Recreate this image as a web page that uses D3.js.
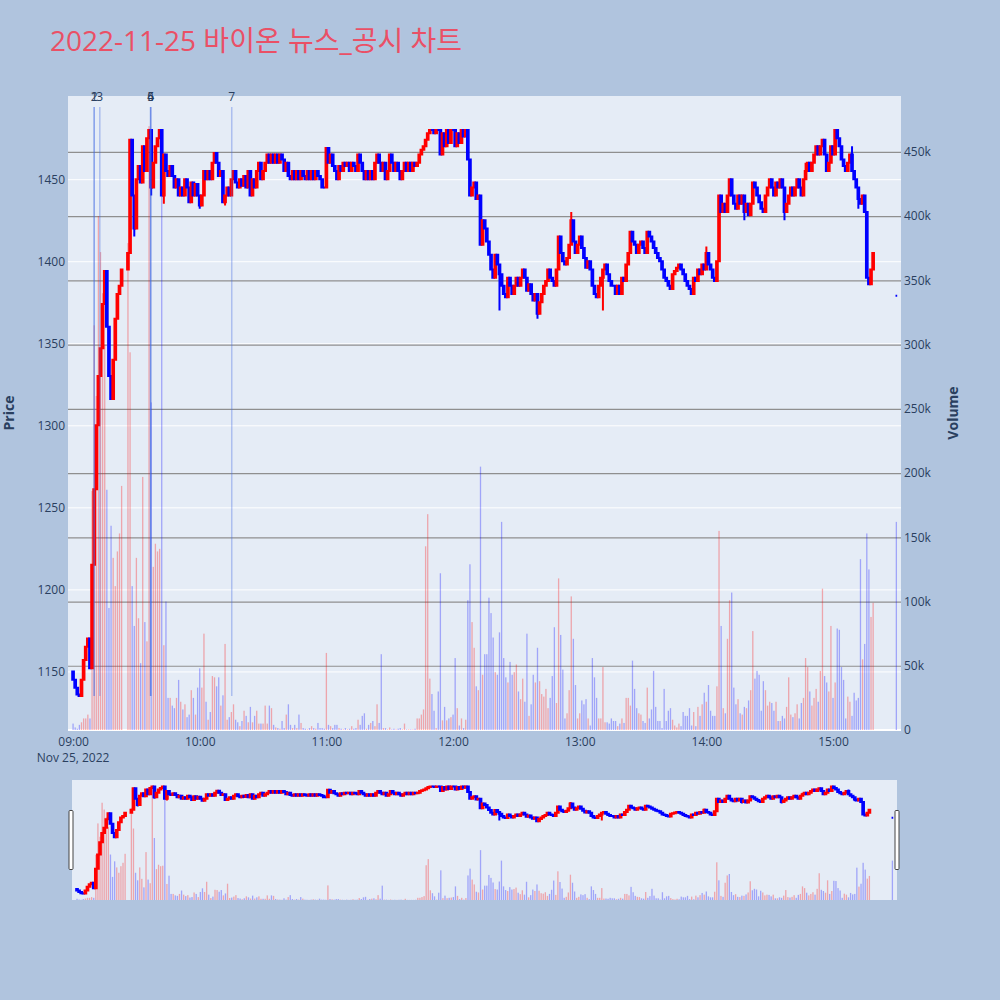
<!DOCTYPE html>
<html>
<head>
<meta charset="utf-8">
<script src="https://cdnjs.cloudflare.com/ajax/libs/d3/7.8.5/d3.min.js"></script>
<style>
body { margin: 0; background: #b0c4de; }
svg { display: block; font-family: "Open Sans", "Noto Sans CJK KR", sans-serif; }
</style>
</head>
<body>
<div id="chart"></div>
<script>
var title = '2022-11-25 바이온 뉴스_공시 차트';

// one close per minute from 09:00 (null = no trade, VI halt)
var firstOpen = 1150;
var closes = [
    1145,1140,1136,1135,1145,1157,1165,1170,1152,1215,
    1261,1300,1330,1347,1374,1394,1360,1330,1316,1340,
    1365,1380,1385,1395,null,null,1405,1474,1440,1420,
    1450,1458,1448,1470,1455,1475,1480,1445,1460,1470,
    1475,1480,1440,1465,1455,1452,1458,1452,1445,1450,
    1440,1445,1440,1450,1445,1436,1448,1440,1447,1440,
    1434,1440,1455,1450,1455,1450,1460,1466,1460,1452,
    1455,1436,1440,1445,1440,1450,1455,1448,1445,1450,
    1446,1452,1445,1455,1440,1450,1445,1455,1460,1450,
    1455,1460,1465,1460,1465,1460,1465,1460,1465,1462,
    1455,1460,1452,1450,1455,1450,1455,1450,1455,1452,
    1450,1455,1450,1455,1450,1455,1452,1450,1445,1445,
    1469,1460,1465,1458,1455,1450,1458,1455,1460,1458,
    1460,1455,1460,1458,1455,1465,1460,1455,1450,1455,
    1450,1455,1450,1460,1465,1460,1455,1460,1450,1455,
    1465,1460,1455,1460,1455,1450,1455,1460,1455,1460,
    1455,1460,1458,1460,1465,1468,1470,1474,1478,1480,
    1480,1478,1480,1480,1465,1478,1470,1480,1472,1480,
    1480,1470,1478,1472,1480,1476,1480,1462,1440,1445,
    1448,1438,1440,1410,1425,1420,1412,1404,1395,1390,
    1404,1398,1392,1385,1380,1378,1390,1385,1380,1385,
    1390,1385,1390,1395,1390,1382,1386,1380,1376,1380,
    1368,1375,1380,1385,1388,1395,1390,1388,1385,1395,
    1415,1405,1400,1398,1402,1410,1425,1412,1405,1410,
    1415,1408,1402,1396,1400,1395,1385,1380,1378,1385,
    1390,1395,1398,1392,1388,1385,1385,1380,1385,1380,
    1390,1388,1398,1405,1418,1412,1410,1405,1410,1412,
    1408,1405,1418,1415,1412,1408,1405,1402,1400,1395,
    1390,1388,1385,1383,1392,1394,1396,1398,1395,1392,
    1388,1385,1383,1380,1390,1388,1395,1392,1398,1395,
    1405,1398,1395,1390,1388,1400,1440,1430,1435,1430,
    1440,1450,1440,1435,1432,1440,1435,1440,1430,1435,
    1428,1435,1448,1445,1440,1436,1432,1430,1440,1445,
    1450,1445,1440,1448,1445,1450,1445,1430,1435,1440,
    1445,1440,1445,1450,1445,1440,1450,1455,1460,1455,
    1460,1465,1470,1465,1470,1474,1465,1455,1460,1470,
    1465,1480,1475,1470,1462,1458,1455,1460,1465,1455,
    1450,1445,1438,1435,1440,1430,1390,1386,1395,1405
];

// wick extremes seen outside the bodies: minute index and price
var wickMinutes = [29, 37, 43, 60, 72, 125, 202, 220, 236, 251, 300, 318, 337, 347, 369, 372];
var wickPrices  = [1415, 1440, 1435, 1432, 1434, 1450, 1370, 1365, 1430, 1370, 1409, 1425, 1425, 1460, 1470, 1432];

// volume per minute, thousands of shares
var volumes = [
    5,2,1,4,6,9,9,12,9,186,
    315,260,400,372,340,300,187,95,159,134,
    112,139,153,190,null,null,379,294,112,81,
    134,87,52,197,84,69,470,255,127,145,
    139,141,459,66,100,25,25,19,17,25,
    39,22,16,20,10,12,31,25,12,33,
    48,33,75,22,8,14,42,41,34,41,
    19,27,67,8,10,14,20,8,6,3,
    7,15,11,6,18,6,11,15,5,5,
    5,19,5,19,17,4,2,1.5,1,7,
    1.5,12,20,4,1.5,4,1.5,12,5.5,1.5,
    1,0.5,1.5,3,1.5,1,5.5,1.5,1.5,1,
    60,4,3,1.5,4,4,1.5,1,0.5,1.5,
    0.5,1,3,1,1.5,8,4,11,13,1,
    4,5.5,7,3,20,5.5,59,1.5,1.5,0.5,
    2,0.5,1,0.5,1,1.5,0.5,5,0.5,0.5,
    0.5,0.5,1,9,9,12,16,143,168,40,
    28,15,1.5,30,122,7.5,18,7.5,9,10,
    12,56,17,3.5,9,1.5,8,101,129,84,
    64,34,31,205,43,59,59,103,91,72,
    45,43,76,162,56,41,37,53,43,45,
    51,30,24,40,22,75,11,20,43,37,
    64,38,28,26,32,17,25,42,80,21,
    118,74,47,9,13,31,104,71,35,9,
    13,23,20,24,9,3.5,56,41,25,9,
    9,49,6,6,5,9,7,7,3,5,
    9,5.5,25,25,19,54,32,17,13,12,
    7,5.5,33,9,16,46,18,7,7,1.5,
    32,7,15,17,8,3.5,2,5,3,14,
    11,11,17,3.5,14,3,18,11,20,29,
    22,35,15,11,11,34,155,81,17,13,
    71,101,107,33,20,24,13,12,18,17,
    23,31,77,40,46,43,15,38,31,19,
    22,21,15,22,7,7,11,9,18,41,
    12,10,13,20,9,21,25,56,49,30,
    19,25,32,22,46,110,42,37,30,81,
    25,37,79,78,49,39,9,26,22,11,
    29,23,25,133,55,67,153,125,88,99
];

// closing auction
var auctionTime = '15:30';
var auctionPrice = 1379;
var auctionVolume = 162;

var newsLabels = ['1', '2', '3', '4', '5', '6', '7'];
var newsTimes = ['09:10:00', '09:10:00', '09:12:40', '09:36:45', '09:36:45', '09:36:45', '10:15:10'];

var priceTicks = [1150, 1200, 1250, 1300, 1350, 1400, 1450];
var volumeTicks = [0, 50, 100, 150, 200, 250, 300, 350, 400, 450];
var timeTicks = ['09:00', '10:00', '11:00', '12:00', '13:00', '14:00', '15:00'];

function at(s) {
    var p = s.split(':').map(Number);
    return new Date(2022, 10, 25, p[0], p[1], p[2] || 0);
}

var t0 = at('09:00');
var rows = [];
var prev = firstOpen;
closes.forEach(function(c, i) {
    if (c == null) return;
    var r = {t: d3.timeMinute.offset(t0, i), o: prev, c: c, v: volumes[i]};
    r.h = Math.max(r.o, r.c);
    r.l = Math.min(r.o, r.c);
    var w = wickMinutes.indexOf(i);
    if (w >= 0) {
        r.h = Math.max(r.h, wickPrices[w]);
        r.l = Math.min(r.l, wickPrices[w]);
    }
    rows.push(r);
    prev = c;
});
rows.push({t: at(auctionTime), o: auctionPrice, c: auctionPrice, h: auctionPrice, l: auctionPrice, v: auctionVolume});
rows.forEach(function(d) { d.up = d.c > d.o; });

var plot = {left: 68, right: 901, top: 96, bottom: 730};
var slider = {left: 72, right: 897, top: 780, bottom: 900};

var svg = d3.select('#chart').append('svg')
    .attr('width', 1000)
    .attr('height', 1000);

svg.append('rect').attr('width', 1000).attr('height', 1000).attr('fill', '#b0c4de');

var x = d3.scaleTime()
    .domain([d3.timeSecond.offset(t0, -144), d3.timeSecond.offset(t0, 23532)])
    .range([plot.left, plot.right]);

var pMin = d3.min(rows, d => d.l),
    pMax = d3.max(rows, d => d.h),
    pPad = (pMax - pMin) * 0.06;
var y = d3.scaleLinear()
    .domain([pMin - pPad, pMax + pPad])
    .range([plot.bottom, plot.top]);

var yv = d3.scaleLinear()
    .domain([0, d3.max(rows, d => d.v) * 1.05])
    .range([plot.bottom, plot.top]);

var step = x(d3.timeMinute.offset(t0, 1)) - x(t0);

// plot backgrounds
svg.append('rect')
    .attr('x', plot.left).attr('y', plot.top)
    .attr('width', plot.right - plot.left).attr('height', plot.bottom - plot.top)
    .attr('fill', '#e5ecf6');
svg.append('rect')
    .attr('x', slider.left).attr('y', slider.top)
    .attr('width', slider.right - slider.left).attr('height', slider.bottom - slider.top)
    .attr('fill', '#e5ecf6');

var defs = svg.append('defs');
defs.append('clipPath').attr('id', 'clipMain').append('rect')
    .attr('x', plot.left).attr('y', plot.top)
    .attr('width', plot.right - plot.left).attr('height', plot.bottom - plot.top);
defs.append('clipPath').attr('id', 'clipSlider').append('rect')
    .attr('x', slider.left).attr('y', slider.top)
    .attr('width', slider.right - slider.left).attr('height', slider.bottom - slider.top);

// grid: price (white) and volume (grey)
svg.append('g')
    .attr('transform', `translate(${plot.left},0)`)
    .call(d3.axisLeft(y).tickValues(priceTicks).tickSize(-(plot.right - plot.left)).tickFormat(''))
    .call(g => g.select('.domain').remove())
    .call(g => g.selectAll('.tick line').attr('stroke', '#fff').attr('stroke-width', 1));

svg.append('g')
    .attr('transform', `translate(${plot.right},0)`)
    .call(d3.axisRight(yv).tickValues(volumeTicks.slice(1)).tickSize(-(plot.right - plot.left)).tickFormat(''))
    .call(g => g.select('.domain').remove())
    .call(g => g.selectAll('.tick line').attr('stroke', '#8f8f8f').attr('stroke-width', 1.2));

svg.append('line')
    .attr('x1', plot.left).attr('x2', plot.right)
    .attr('y1', yv(0)).attr('y2', yv(0))
    .attr('stroke', '#fff').attr('stroke-width', 2);

function drawCandles(g, xs, ys, bw) {
    g.selectAll('.candle')
        .data(rows)
        .enter().append('path')
        .attr('class', 'candle')
        .attr('d', d => {
            var cx = xs(d.t), a = ys(d.o), b = ys(d.c);
            var top = Math.min(a, b), bot = Math.max(a, b);
            return 'M' + cx + ',' + ys(d.h) + 'V' + top +
                'M' + (cx - bw / 2) + ',' + top + 'H' + (cx + bw / 2) + 'V' + bot + 'H' + (cx - bw / 2) + 'Z' +
                'M' + cx + ',' + bot + 'V' + ys(d.l);
        })
        .style('fill', d => d.up ? 'rgba(255,0,0,0.5)' : 'rgba(0,0,255,0.5)')
        .style('stroke', d => d.up ? '#ff0000' : '#0000ff')
        .style('stroke-width', 2);
}

function drawVolume(g, xs, ys, bw) {
    g.selectAll('.vol')
        .data(rows)
        .enter().append('rect')
        .attr('class', 'vol')
        .attr('x', d => xs(d.t) - bw / 2)
        .attr('width', bw)
        .attr('y', d => ys(d.v))
        .attr('height', d => ys(0) - ys(d.v))
        .style('fill', d => d.up ? 'rgba(255,0,0,0.3)' : 'rgba(0,0,255,0.3)');
}

var gMain = svg.append('g').attr('clip-path', 'url(#clipMain)');
drawCandles(gMain, x, y, step * 0.8);
drawVolume(gMain, x, yv, step * 0.62);

// news markers
var lowest = d3.min(rows, d => d.l);
var gNews = svg.append('g');
newsTimes.forEach((t, i) => {
    var nx = x(at(t));
    gNews.append('line')
        .attr('x1', nx).attr('x2', nx)
        .attr('y1', plot.top + 11).attr('y2', y(lowest))
        .attr('stroke', 'rgba(65,105,225,0.35)')
        .attr('stroke-width', 1.5);
    gNews.append('text')
        .attr('x', nx).attr('y', plot.top + 5)
        .attr('text-anchor', 'middle')
        .style('font-size', '12px')
        .style('fill', '#2a3f5f')
        .text(newsLabels[i]);
});

// axes
svg.append('g')
    .attr('transform', `translate(${plot.left},0)`)
    .call(d3.axisLeft(y).tickValues(priceTicks).tickSize(0).tickPadding(3).tickFormat(d3.format('d')))
    .call(g => g.select('.domain').remove())
    .call(g => g.selectAll('text').style('font-size', '12px').style('fill', '#2a3f5f').style('font-family', '"Open Sans", sans-serif'));

svg.append('g')
    .attr('transform', `translate(${plot.right},0)`)
    .call(d3.axisRight(yv).tickValues(volumeTicks).tickSize(0).tickPadding(3)
        .tickFormat(v => v === 0 ? '0' : v + 'k'))
    .call(g => g.select('.domain').remove())
    .call(g => g.selectAll('text').style('font-size', '12px').style('fill', '#2a3f5f').style('font-family', '"Open Sans", sans-serif'));

svg.append('g')
    .attr('transform', `translate(0,${plot.bottom})`)
    .call(d3.axisBottom(x).tickValues(timeTicks.map(at)).tickSize(0).tickPadding(7)
        .tickFormat(d3.timeFormat('%H:%M')))
    .call(g => g.select('.domain').remove())
    .call(g => g.selectAll('text').style('font-size', '12px').style('fill', '#2a3f5f').style('font-family', '"Open Sans", sans-serif'));

svg.append('text')
    .attr('x', x(t0)).attr('y', 762)
    .attr('text-anchor', 'middle')
    .style('font-size', '12px').style('fill', '#2a3f5f')
    .text(d3.timeFormat('%b %-d, %Y')(t0));

svg.append('text')
    .attr('transform', `translate(14,${(plot.top + plot.bottom) / 2}) rotate(-90)`)
    .attr('text-anchor', 'middle')
    .style('font-size', '14px').style('font-weight', 'bold').style('fill', '#2a3f5f')
    .text('Price');

svg.append('text')
    .attr('transform', `translate(958,${(plot.top + plot.bottom) / 2}) rotate(-90)`)
    .attr('text-anchor', 'middle')
    .style('font-size', '14px').style('font-weight', 'bold').style('fill', '#2a3f5f')
    .text('Volume');

// range slider
var xs = x.copy().range([slider.left, slider.right]);
var ys = y.copy().range([slider.bottom, slider.top]);
var yvs = yv.copy().range([slider.bottom, slider.top]);
var gSlider = svg.append('g').attr('clip-path', 'url(#clipSlider)');
drawCandles(gSlider, xs, ys, step * 0.8);
drawVolume(gSlider, xs, yvs, step * 0.62);

[slider.left - 3, slider.right - 2].forEach(hx => {
    svg.append('rect')
        .attr('x', hx).attr('y', 810.5)
        .attr('width', 4).attr('height', 59)
        .attr('rx', 1)
        .attr('fill', '#fff')
        .attr('stroke', '#444')
        .attr('stroke-width', 1);
});

// title
svg.append('text')
    .attr('x', 50).attr('y', 51)
    .style('font-size', '28px')
    .style('fill', '#ea5066')
    .text(title);
</script>
</body>
</html>
